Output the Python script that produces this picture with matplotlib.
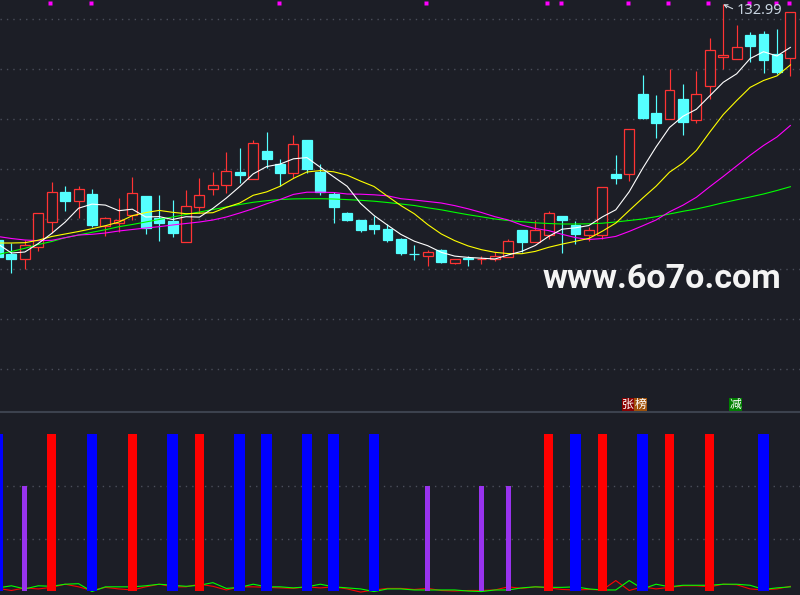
import numpy as np
import matplotlib
matplotlib.use("Agg")
import matplotlib.pyplot as plt
import matplotlib.transforms as mtransforms
from matplotlib.patches import Rectangle

# ---------------- data ----------------
opens = [85.86, 83.06, 82.00, 84.52, 89.40, 95.40, 93.76, 95.06, 88.76, 89.32,
         90.80, 94.66, 90.20, 89.70, 85.40, 92.52, 96.00, 96.96, 99.46, 98.16,
         103.66, 101.02, 99.32, 105.86, 99.52, 95.06, 91.32, 89.86, 88.90, 88.10,
         86.02, 83.12, 82.72, 83.86, 81.32, 82.26, 82.00, 82.00, 82.40, 87.86,
         85.40, 86.82, 90.66, 88.92, 86.96, 86.92, 99.06, 99.00, 115.06, 111.20,
         110.00, 114.06, 109.86, 116.66, 122.46, 122.00, 126.86, 127.06, 123.00, 122.32]
closes = [82.46, 82.06, 84.80, 91.20, 95.40, 93.72, 96.00, 88.86, 90.20, 89.80,
          95.20, 88.20, 89.30, 87.32, 92.62, 94.80, 96.82, 99.62, 98.92, 105.20,
          102.10, 99.32, 105.00, 100.12, 95.46, 92.52, 89.86, 87.86, 88.10, 85.86,
          83.26, 83.00, 83.40, 81.52, 82.00, 82.00, 82.16, 82.66, 85.62, 85.52,
          87.86, 91.20, 89.86, 87.06, 87.86, 96.40, 98.32, 108.00, 110.32, 109.32,
          115.86, 109.52, 115.00, 123.80, 122.80, 124.40, 124.72, 121.86, 119.52, 131.40]
highs = [86.26, 85.26, 85.96, 91.20, 97.42, 96.66, 96.66, 96.06, 90.52, 94.20,
         98.40, 94.66, 94.86, 93.86, 95.86, 98.26, 99.50, 103.46, 104.26, 105.86,
         107.46, 102.02, 106.86, 105.86, 101.02, 95.40, 91.50, 89.96, 90.62, 89.02,
         86.26, 84.86, 83.76, 84.10, 82.00, 82.60, 82.66, 83.40, 86.02, 87.86,
         89.86, 91.66, 90.66, 89.66, 88.46, 96.40, 102.86, 108.00, 118.86, 114.86,
         120.00, 117.06, 119.66, 126.20, 132.99, 128.86, 127.52, 127.66, 128.06, 131.40]
lows = [82.26, 79.32, 80.02, 83.72, 87.20, 91.72, 90.30, 88.52, 86.72, 87.50,
        89.86, 87.06, 85.72, 86.52, 85.40, 91.20, 94.86, 95.30, 97.32, 98.16,
        100.26, 96.70, 98.20, 99.20, 94.86, 89.32, 89.56, 87.40, 87.00, 85.42,
        82.96, 81.86, 80.72, 81.20, 81.14, 80.66, 81.16, 81.60, 82.40, 83.52,
        85.40, 86.00, 83.32, 85.12, 85.56, 86.12, 97.06, 97.72, 110.06, 106.20,
        110.00, 106.86, 109.32, 114.00, 120.06, 122.00, 121.52, 119.32, 119.06, 118.72]

ma5 = [85.06, 83.26, 83.46, 85.16, 87.18, 89.44, 92.22, 93.04, 92.84, 91.72,
       92.02, 90.46, 90.54, 89.96, 90.52, 90.44, 92.18, 94.24, 96.56, 99.08,
       100.54, 101.04, 102.10, 102.34, 100.40, 98.48, 96.60, 93.16, 90.76, 88.84,
       86.98, 85.62, 84.72, 83.40, 82.64, 82.38, 82.22, 82.06, 82.88, 83.60,
       84.76, 86.58, 88.02, 88.30, 88.76, 90.48, 91.90, 95.52, 100.18, 104.48,
       108.36, 110.60, 112.00, 114.70, 117.40, 119.10, 122.14, 123.52, 122.66, 124.38]
ma10 = [85.26, 85.26, 85.32, 85.82, 86.56, 87.06, 87.56, 88.12, 88.72, 89.45,
        90.72, 91.34, 91.78, 91.40, 91.12, 91.22, 91.32, 92.38, 93.26, 94.80,
        95.48, 96.60, 98.18, 99.46, 99.74, 99.50, 98.82, 97.64, 96.56, 94.62,
        92.74, 91.10, 88.94, 87.08, 85.74, 84.68, 83.92, 83.40, 83.14, 83.12,
        83.58, 84.40, 85.04, 85.60, 86.18, 87.62, 89.24, 91.76, 94.24, 96.62,
        99.42, 101.26, 103.76, 107.44, 110.94, 113.74, 116.38, 117.76, 118.68, 120.88]
ma20 = [86.56, 86.16, 85.86, 85.72, 85.80, 86.32, 86.86, 87.00, 87.26, 87.66,
        87.96, 88.26, 88.52, 88.86, 89.16, 89.46, 89.86, 90.46, 91.26, 92.12,
        93.10, 93.96, 94.98, 95.42, 95.42, 95.36, 95.06, 95.02, 94.90, 94.70,
        94.12, 93.86, 93.56, 93.26, 92.74, 92.10, 91.36, 90.52, 89.86, 88.86,
        88.16, 87.74, 87.00, 86.34, 85.96, 86.16, 86.58, 87.58, 88.70, 89.86,
        91.50, 92.82, 94.40, 96.52, 98.56, 100.68, 102.80, 104.76, 106.46, 108.76]
ma60 = [82.96, 83.56, 84.20, 84.96, 85.56, 86.32, 86.86, 87.40, 87.92, 88.52,
        88.96, 89.46, 89.96, 90.46, 90.96, 91.46, 91.96, 92.46, 92.96, 93.40,
        93.72, 93.96, 94.08, 94.12, 94.12, 94.06, 93.94, 93.80, 93.62, 93.36,
        93.06, 92.76, 92.30, 91.90, 91.40, 90.92, 90.50, 90.06, 89.76, 89.52,
        89.30, 89.16, 89.06, 89.06, 89.10, 89.22, 89.46, 89.76, 90.06, 90.52,
        91.06, 91.60, 92.06, 92.66, 93.32, 93.90, 94.46, 95.06, 95.76, 96.52]

marker_idx = [4, 7, 21, 32, 41, 42, 47, 50, 53, 56, 58, 59]
price_grid = [130, 120, 110, 100, 90, 80, 70, 60]
high_label = "132.99"
high_idx = 54

sig_red_idx = [4, 10, 15, 41, 45, 50, 53]
sig_blue_idx = [0, 7, 13, 18, 20, 23, 25, 28, 43, 48, 57]
sig_purple_idx = [2, 32, 36, 38]
sig_full = 3
sig_part = 2
sub_grid = [1, 2]

osc_red = [0.05, 0.01, 0.06, 0.04, 0.07, 0.13, 0.08, 0.01, 0.07, 0.04,
           0.02, 0.08, 0.13, 0.08, 0.08, 0.13, 0.09, 0.02, 0.08, 0.08,
           0.07, 0.06, 0.05, 0.08, 0.06, 0.08, 0.04, -0.02, 0.02, 0.05,
           0.05, 0.03, 0.05, 0.01, 0.00, 0.01, 0.01, 0.02, 0.08, 0.05,
           0.08, 0.06, 0.03, 0.02, 0.03, 0.02, 0.20, 0.01, 0.08, 0.04,
           0.07, 0.10, 0.10, 0.08, 0.13, 0.12, 0.04, 0.02, 0.04, 0.09]
osc_green = [0.06, 0.10, 0.04, 0.10, 0.09, 0.13, 0.14, -0.01, 0.08, 0.08,
             0.08, 0.10, 0.13, 0.11, 0.09, 0.11, 0.16, 0.05, 0.07, 0.13,
             0.08, 0.08, 0.06, 0.08, 0.13, 0.08, 0.06, 0.04, -0.01, 0.04,
             0.04, 0.02, 0.02, 0.02, 0.02, 0.00, -0.01, 0.02, 0.02, 0.06,
             0.08, 0.07, 0.07, 0.08, 0.04, 0.02, 0.02, 0.20, 0.04, 0.13,
             0.08, 0.11, 0.11, 0.11, 0.13, 0.13, 0.11, 0.03, 0.06, 0.08]

labels = [("张", 47, "#8b0000"), ("榜", 48, "#a0520a"), ("减", 55, "#008000")]

# ---------------- style ----------------
BG = "#1c1e26"
GRID = "#4a4e5a"
RED = "#ff3333"
CYAN = "#55ffff"

fig = plt.figure(figsize=(8, 5.95), dpi=100, facecolor=BG)
H_TOP = 412 / 595
ax = fig.add_axes([0, 1 - H_TOP, 1, H_TOP], facecolor=BG)
ax2 = fig.add_axes([0, 0, 1, 1 - H_TOP], facecolor=BG)

XL = (2 / 13.43, 802 / 13.43)
for a in (ax, ax2):
    a.set_xlim(*XL)
    a.set_xticks([])
    a.set_yticks([])
    for s in a.spines.values():
        s.set_visible(False)

ax.set_ylim(51.46, 133.86)
ax2.set_ylim(-0.076, 3.42)

dots = (0, (1.0, 3.6))
for g in price_grid:
    ax.axhline(g, color=GRID, lw=1.0, ls=dots, zorder=0)
for g in sub_grid:
    ax2.axhline(g, color=GRID, lw=1.0, ls=dots, zorder=0)

# ---------------- candles ----------------
x = np.arange(len(opens))
o = np.array(opens); c = np.array(closes)
h = np.array(highs); l = np.array(lows)
up = c >= o
col = np.where(up, RED, CYAN)
ax.vlines(x, l, h, colors=col, lw=0.85, zorder=2)
bottom = np.minimum(o, c)
height = np.maximum(np.abs(c - o), 0.05)
face = np.where(up, BG, CYAN)
ax.bar(x, height, bottom=bottom, width=0.74, color=face, edgecolor=col,
       linewidth=0.9, zorder=3)

# ---------------- moving averages ----------------
ax.plot(x, ma60, color="#00ff00", lw=0.8, zorder=4)
ax.plot(x, ma20, color="#ff00ff", lw=0.8, zorder=4)
ax.plot(x, ma10, color="#ffff00", lw=0.8, zorder=4)
ax.plot(x, ma5, color="#ffffff", lw=0.8, zorder=5)

# markers along the top edge
trans = mtransforms.blended_transform_factory(ax.transData, ax.transAxes)
ax.plot(np.array(marker_idx) - 0.1, [1 - 2.5 / 412] * len(marker_idx), ls="none",
        marker="s", ms=2.6, color="#ff00ff", mec="none", transform=trans,
        clip_on=False, zorder=6)

# high annotation
ax.annotate(high_label, xy=(high_idx, highs[high_idx]), xytext=(55.0, 131.75),
            ha="left", va="center", color="#c8d4e0", fontsize=10.5,
            family=["Noto Sans", "DejaVu Sans"],
            arrowprops=dict(arrowstyle="->", color="#d0d8e0", lw=0.8,
                            shrinkA=1, shrinkB=0, relpos=(0, 0.5),
                            mutation_scale=6),
            zorder=7)

# signal labels at bottom of top panel
cw = 12.5 / 13.43
for ch, idx, fc in labels:
    x0 = idx - 0.54 if ch != "榜" else idx - 0.61
    ax.add_patch(Rectangle((x0, 51.66), cw, 2.6, facecolor=fc, edgecolor="none",
                           zorder=6))
    ax.text(x0 + cw / 2, 51.66 + 1.3, ch, ha="center", va="center",
            color="white", fontsize=8.5,
            family=["Noto Sans CJK SC", "DejaVu Sans"], zorder=7)

# watermark
fig.text(543 / 800, 1 - 288 / 595, "www.6o7o.com", ha="left", va="baseline",
         color="#f4f4f4", fontsize=24.5, fontweight="bold",
         family=["Roboto", "DejaVu Sans"], zorder=10)

# ---------------- sub panel ----------------
ax2.spines["top"].set_visible(True)
ax2.spines["top"].set_color("#3c424e")
ax2.spines["top"].set_linewidth(1.5)

ax2.plot(x, osc_red, color="#ff0000", lw=0.8, zorder=2)
ax2.plot(x, osc_green, color="#00ff00", lw=0.8, zorder=2)
ax2.bar(sig_blue_idx, [sig_full] * len(sig_blue_idx), width=0.80,
        color="#0000ff", zorder=3)
ax2.bar(sig_red_idx, [sig_full] * len(sig_red_idx), width=0.67,
        color="#ff0000", zorder=3)
ax2.bar(sig_purple_idx, [sig_part] * len(sig_purple_idx), width=0.37,
        color="#9933ee", zorder=3)

fig.savefig("out.png", dpi=100, facecolor=BG)
